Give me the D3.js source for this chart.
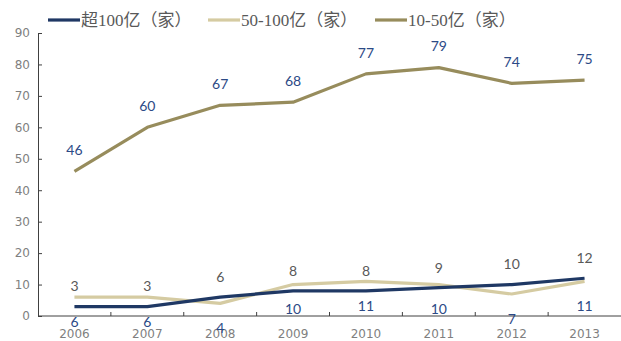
<!DOCTYPE html>
<html>
<head>
<meta charset="utf-8">
<script src="https://cdn.jsdelivr.net/npm/d3@7"></script>
<style>
  body { margin: 0; background: #fff; }
</style>
</head>
<body>
<div id="viz"></div>
<script>
var years = ['2006', '2007', '2008', '2009', '2010', '2011', '2012', '2013'];
var over100 = [3, 3, 6, 8, 8, 9, 10, 12];
var from50to100 = [6, 6, 4, 10, 11, 10, 7, 11];
var from10to50 = [46, 60, 67, 68, 77, 79, 74, 75];
var yTicks = [0, 10, 20, 30, 40, 50, 60, 70, 80, 90];
var names = ['超100亿（家）', '50-100亿（家）', '10-50亿（家）'];

var w = 621, h = 341;
var mLeft = 38, mRight = 621, mTop = 33, mBottom = 316;

var series = [
  { name: names[0], vals: over100, color: '#1f3864', labColor: '#595959', dy: -20 },
  { name: names[1], vals: from50to100, color: '#d5cba2', labColor: '#2c4a86', dy: 25 },
  { name: names[2], vals: from10to50, color: '#978c5c', labColor: '#2c4a86', dy: -21 }
];

var svg = d3.select('#viz')
            .append('svg')
            .attr('width', w)
            .attr('height', h);

var x = d3.scaleBand()
          .domain(years)
          .range([mLeft, mRight]);

var y = d3.scaleLinear()
          .domain([0, 90])
          .range([mBottom, mTop]);

// y axis
var yAxis = svg.append('g')
   .attr('transform', 'translate(' + mLeft + ',0)')
   .call(d3.axisLeft(y).tickValues(yTicks).tickSizeInner(-4).tickSizeOuter(-4).tickPadding(8));
yAxis.select('.domain').attr('stroke', '#404040');
yAxis.selectAll('line').attr('stroke', '#404040');
yAxis.selectAll('text')
     .attr('fill', '#7f7f7f')
     .style('font-family', 'DejaVu Sans')
     .style('font-size', '12px');

// x axis with ticks at band boundaries
var xg = svg.append('g')
   .attr('transform', 'translate(0,' + mBottom + ')');
xg.append('line')
  .attr('x1', mLeft).attr('x2', mRight)
  .attr('stroke', '#404040');
xg.selectAll('.tk')
  .data(years.slice(1))
  .enter()
  .append('line')
  .attr('x1', d => x(d)).attr('x2', d => x(d))
  .attr('y1', 0).attr('y2', -4)
  .attr('stroke', '#404040');
xg.selectAll('.yr')
  .data(years)
  .enter()
  .append('text')
  .attr('x', d => x(d) + x.bandwidth() / 2)
  .attr('y', 22)
  .attr('text-anchor', 'middle')
  .attr('fill', '#7f7f7f')
  .style('font-family', 'DejaVu Sans')
  .style('font-size', '12px')
  .text(d => d);

var line = d3.line()
             .x((d, i) => x(years[i]) + x.bandwidth() / 2)
             .y(d => y(d));

// draw order: olive, tan, navy on top
[2, 1, 0].forEach(function(k) {
  var s = series[k];
  svg.append('path')
     .datum(s.vals)
     .attr('d', line)
     .attr('fill', 'none')
     .attr('stroke', s.color)
     .attr('stroke-width', 3.2)
     .attr('stroke-linejoin', 'round');
});

series.forEach(function(s) {
  svg.append('g')
     .selectAll('text')
     .data(s.vals)
     .enter()
     .append('text')
     .attr('x', (d, i) => x(years[i]) + x.bandwidth() / 2)
     .attr('y', d => y(d) + s.dy)
     .attr('dy', '0.35em')
     .attr('text-anchor', 'middle')
     .attr('fill', s.labColor)
     .style('font-family', 'Lato, Open Sans, sans-serif')
     .style('font-size', '14px')
     .text(d => d);
});

// legend
var legX = [48, 208, 375];
var leg = svg.append('g');
series.forEach(function(s, i) {
  leg.append('line')
     .attr('x1', legX[i]).attr('x2', legX[i] + 32)
     .attr('y1', 20).attr('y2', 20)
     .attr('stroke', s.color)
     .attr('stroke-width', 3.2);
  leg.append('text')
     .attr('x', legX[i] + 33)
     .attr('y', 20)
     .attr('dy', '0.36em')
     .attr('fill', '#595959')
     .style('font-family', 'Liberation Serif, Noto Sans CJK SC, serif')
     .style('font-size', '17px')
     .text(s.name);
});
</script>
</body>
</html>
